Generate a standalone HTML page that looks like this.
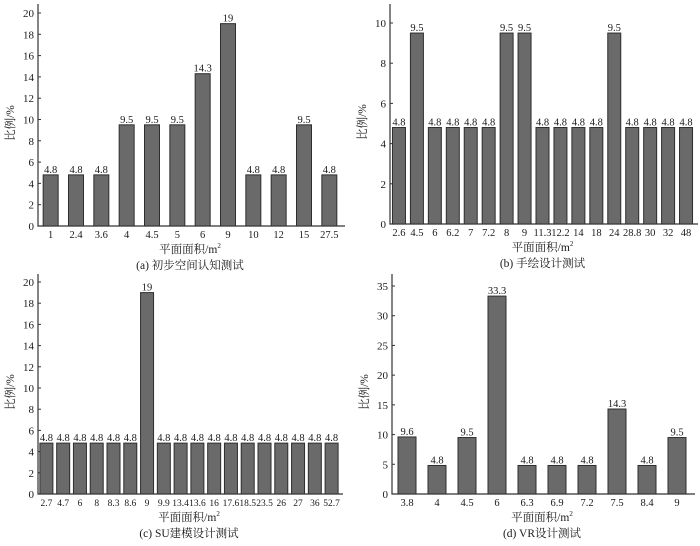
<!DOCTYPE html>
<html><head><meta charset="utf-8">
<style>
body{margin:0;background:#fff;}
svg{display:block;}
text{font-family:"Liberation Serif","Noto Serif CJK SC","Noto Sans CJK SC",serif;fill:#1a1a1a;}
</style></head>
<body>
<svg id="c" width="700" height="546" viewBox="0 0 700 546"></svg>
<script>
const catsA=["1","2.4","3.6","4","4.5","5","6","9","10","12","15","27.5"];
const valsA=[4.8,4.8,4.8,9.5,9.5,9.5,14.3,19,4.8,4.8,9.5,4.8];
const labsA=["4.8","4.8","4.8","9.5","9.5","9.5","14.3","19","4.8","4.8","9.5","4.8"];
const ticksA=[0,2,4,6,8,10,12,14,16,18,20];

const catsB=["2.6","4.5","6","6.2","7","7.2","8","9","11.3","12.2","14","18","24","28.8","30","32","48"];
const valsB=[4.8,9.5,4.8,4.8,4.8,4.8,9.5,9.5,4.8,4.8,4.8,4.8,9.5,4.8,4.8,4.8,4.8];
const labsB=["4.8","9.5","4.8","4.8","4.8","4.8","9.5","9.5","4.8","4.8","4.8","4.8","9.5","4.8","4.8","4.8","4.8"];
const ticksB=[0,2,4,6,8,10];

const catsC=["2.7","4.7","6","8","8.3","8.6","9","9.9","13.4","13.6","16","17.6","18.5","23.5","26","27","36","52.7"];
const valsC=[4.8,4.8,4.8,4.8,4.8,4.8,19,4.8,4.8,4.8,4.8,4.8,4.8,4.8,4.8,4.8,4.8,4.8];
const labsC=["4.8","4.8","4.8","4.8","4.8","4.8","19","4.8","4.8","4.8","4.8","4.8","4.8","4.8","4.8","4.8","4.8","4.8"];
const ticksC=[0,2,4,6,8,10,12,14,16,18,20];

const catsD=["3.8","4","4.5","6","6.3","6.9","7.2","7.5","8.4","9"];
const valsD=[9.6,4.8,9.5,33.3,4.8,4.8,4.8,14.3,4.8,9.5];
const labsD=["9.6","4.8","9.5","33.3","4.8","4.8","4.8","14.3","4.8","9.5"];
const ticksD=[0,5,10,15,20,25,30,35];

const NS="http://www.w3.org/2000/svg";
const svg=document.getElementById('c');
function mk(tag,attrs,parent,txt){const e=document.createElementNS(NS,tag);for(const k in attrs)e.setAttribute(k,attrs[k]);if(txt!==undefined)e.textContent=txt;(parent||svg).appendChild(e);return e;}

function chart(id,cfg,cats,vals,labs,ticks,caption){
  const g=mk('g',{});
  
  
  const {x0,x1,y0,top,vTop,yTopPx,bw,xfs}=cfg;
  const ys=v=>y0-(y0-yTopPx)*v/vTop;
  const pitch=(x1-x0)/cats.length;
  const xs=i=>x0+pitch*(i+0.5);
  const ax=mk('path',{d:`M${x0} ${top}V${y0}H${x1+3}`,stroke:'#333','stroke-width':1.2,fill:'none'},g);
  
  
  ticks.forEach(t=>{
    const tk=mk('line',{x1:x0,x2:x0+3,y1:ys(t),y2:ys(t),stroke:'#333'},g);
    
    
    const tl=mk('text',{x:x0-4,y:ys(t)+4,'text-anchor':'end','font-size':11},g,String(t));
    
    
  });
  cats.forEach((c,i)=>{
    const b=mk('rect',{x:xs(i)-bw/2,y:ys(vals[i]),width:bw,height:y0-ys(vals[i]),fill:'#6a6a6a',stroke:'#2e2e2e','stroke-width':1},g);
    
    
    const vl=mk('text',{x:xs(i),y:ys(vals[i])-2,'text-anchor':'middle','font-size':10.5},g,labs[i]);
    
    
    const xl=mk('text',{x:xs(i),y:y0+12,'text-anchor':'middle','font-size':xfs||10.5},g,c);
    
    
  });
  const mid=(x0+x1)/2;
  const xt=mk('text',{x:mid,y:y0+27,'text-anchor':'middle','font-size':11.5},g);
  
  
  xt.textContent='平面面积/m';
  mk('tspan',{'font-size':7,dy:-5},xt,'2');
  const yc=(top+y0)/2+8;
  const yt=mk('text',{x:x0-24,y:yc,'text-anchor':'middle','font-size':11.5,transform:`rotate(-90 ${x0-24} ${yc})`},g,'比例/%');
  
  
  const cp=mk('text',{x:mid,y:y0+43,'text-anchor':'middle','font-size':11.5},g,caption);
  
  
}
chart('chart-a',{x0:38,x1:342,y0:226,top:4,vTop:20,yTopPx:13,bw:15},catsA,valsA,labsA,ticksA,'(a) 初步空间认知测试');
chart('chart-b',{x0:390,x1:695,y0:224,top:4,vTop:10,yTopPx:23,bw:13},catsB,valsB,labsB,ticksB,'(b) 手绘设计测试');
chart('chart-c',{x0:38,x1:340,y0:494,top:274,vTop:20,yTopPx:282,bw:13,xfs:9.5},catsC,valsC,labsC,ticksC,'(c) SU建模设计测试');
chart('chart-d',{x0:392,x1:692,y0:494,top:274,vTop:35,yTopPx:286,bw:18},catsD,valsD,labsD,ticksD,'(d) VR设计测试');
</script>
</body></html>
